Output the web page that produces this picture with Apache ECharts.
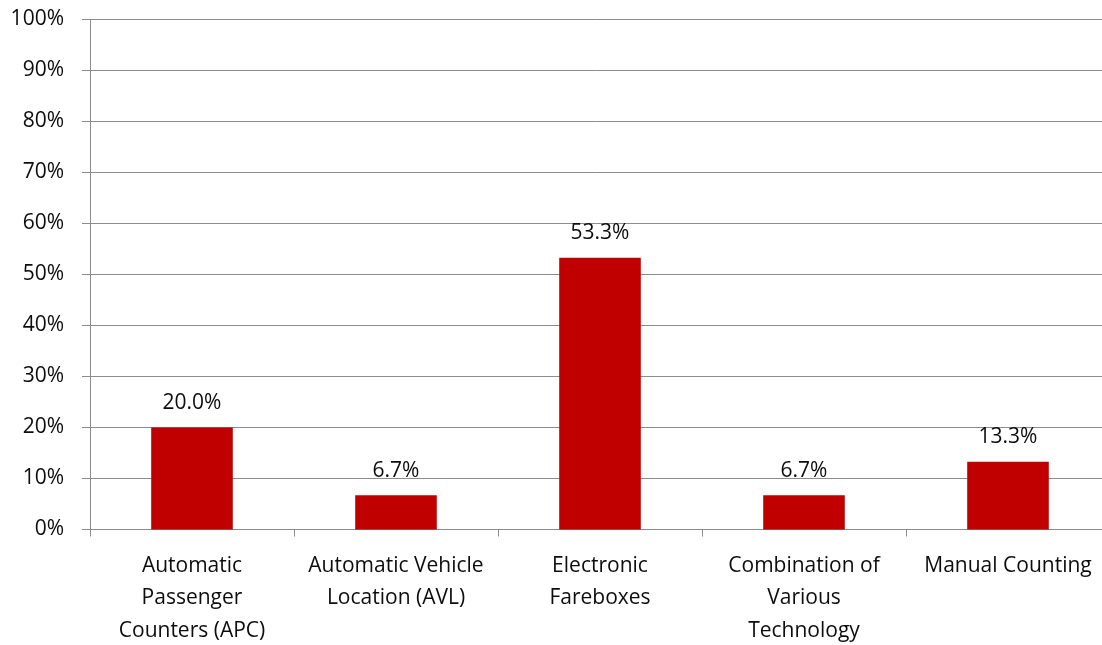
<!DOCTYPE html>
<html>
<head>
<meta charset="utf-8">
<script src="https://cdn.jsdelivr.net/npm/echarts@6/dist/echarts.min.js"></script>
<style>
  html, body { margin: 0; padding: 0; background: #fff; overflow: hidden; }
  #chart { width: 1102px; height: 645px; }
</style>
</head>
<body>
<div id="chart"></div>
<script>
// Data collection methods and their share of responses (%)
const categories = [
  'Automatic\nPassenger\nCounters (APC)',
  'Automatic Vehicle\nLocation (AVL)',
  'Electronic\nFareboxes',
  'Combination of\nVarious\nTechnology',
  'Manual Counting'
];
const shares = [20.0, 6.7, 53.3, 6.7, 13.3];

const yMin = 0;
const yMax = 100;
const yStep = 10;

const font = '"Open Sans", "Noto Sans", sans-serif';
const lineGray = '#8c8c8c';
const textColor = '#0d0d0d';

const chart = echarts.init(document.getElementById('chart'));
chart.setOption({
  animation: false,
  backgroundColor: '#ffffff',
  // plot area runs slightly past the right edge of the canvas
  grid: {
    left: 90, width: 1020, top: 19.5, bottom: 115.5,
    containLabel: false,
    outerBoundsMode: 'none'
  },
  xAxis: {
    type: 'category',
    data: categories,
    axisLine: { lineStyle: { color: lineGray, width: 1 } },
    axisTick: { show: true, alignWithLabel: false, length: 7, lineStyle: { color: lineGray } },
    axisLabel: {
      interval: 0,
      color: textColor,
      fontFamily: font,
      fontSize: 21,
      lineHeight: 32.5,
      margin: 20
    }
  },
  yAxis: {
    type: 'value',
    min: yMin,
    max: yMax,
    interval: yStep,
    axisLine: { show: true, lineStyle: { color: lineGray, width: 1 } },
    axisTick: { show: true, length: 8, lineStyle: { color: lineGray } },
    splitLine: { show: true, lineStyle: { color: lineGray, width: 1 } },
    axisLabel: {
      formatter: '{value}%',
      color: textColor,
      fontFamily: font,
      fontSize: 21,
      margin: 26
    }
  },
  series: [{
    type: 'bar',
    data: shares,
    barWidth: '40%',
    itemStyle: { color: '#c00000' },
    label: {
      show: true,
      position: 'top',
      distance: 14,
      formatter: p => p.value.toFixed(1) + '%',
      color: textColor,
      fontFamily: font,
      fontSize: 21
    }
  }]
});
</script>
</body>
</html>
